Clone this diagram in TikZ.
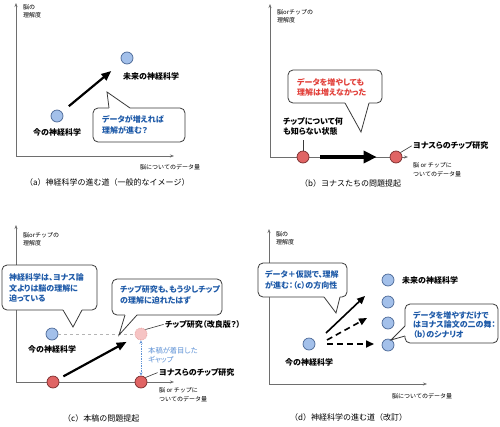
\documentclass[tikz,border=0pt]{standalone}
\usepackage{fontspec}
\setmainfont{Noto Sans CJK JP}
\newfontfamily\jpp{Noto Sans CJK JP}[RawFeature=+palt]
\usetikzlibrary{arrows.meta}
\definecolor{axisgray}{HTML}{6E6E6E}
\definecolor{bluefill}{HTML}{A3C0EA}
\definecolor{bluedark}{HTML}{4A6796}
\definecolor{redfill}{HTML}{E06464}
\definecolor{reddark}{HTML}{7A2C2C}
\definecolor{pinkfill}{HTML}{F6C4C4}
\definecolor{pinkdark}{HTML}{E59A9A}
\definecolor{textblue}{HTML}{1E5AA8}
\definecolor{lightblue}{HTML}{5E92D6}
\definecolor{textred}{HTML}{E2403A}
\definecolor{calldark}{HTML}{3A3A3A}
\definecolor{dashgray}{HTML}{B4B4B4}
\newcommand\mycallout[5]{%
  \draw[callbox] #1 rectangle #2;
  \fill[white] #3 -- #4 -- #5 -- cycle;
  \draw[white, line width=1.6pt] #3 -- #5;
  \draw[callline] #3 -- #4 -- #5;}
\begin{document}
\begin{tikzpicture}[x=1pt,y=-1pt,
  axis/.style={draw=axisgray, line width=0.7pt, -{Stealth[length=4pt,width=3pt]}},
  bcirc/.style={circle, draw=bluedark, fill=bluefill, line width=0.7pt, minimum size=12pt, inner sep=0pt},
  rcirc/.style={circle, draw=reddark, fill=redfill, line width=0.7pt, minimum size=12pt, inner sep=0pt},
  pcirc/.style={circle, draw=pinkdark, fill=pinkfill, densely dotted, line width=0.7pt, minimum size=12pt, inner sep=0pt},
  lbl/.style={inner sep=0pt, anchor=west, align=left, font=\jpp\fontsize{8}{10.5}\selectfont\bfseries},
  calltxt/.style={lbl, text=textblue},
  axlbl/.style={inner sep=0pt, anchor=west, align=left, font=\fontsize{6}{8.5}\selectfont},
  captxt/.style={inner sep=0pt, anchor=west, font=\fontsize{8}{10}\selectfont},
  callbox/.style={draw=calldark, line width=0.8pt, fill=white, rounded corners=5pt},
  callline/.style={draw=calldark, line width=0.8pt, line join=miter},
  pin/.style={draw=calldark, line width=0.6pt},
  fat/.style={line width=2.2pt, -{Triangle[length=10pt,width=8pt]}},
  fatter/.style={line width=3.4pt, -{Triangle[length=13pt,width=12pt]}},
  medarrow/.style={line width=1.6pt, -{Triangle[length=8pt,width=7pt]}},
  dasharrow/.style={medarrow, dash pattern=on 6pt off 4pt}
]
\useasboundingbox[fill=white] (0,0) rectangle (500,426);

% ---------------- (a) ----------------
\coordinate (aO) at (16,156);
\coordinate (aY) at (16,3);
\coordinate (aX) at (174,156);
\draw[axis] (aO) -- (aY);
\draw[axis] (aO) -- (aX);
\node[axlbl] (aYL) at (23,11.5) {脳の\\理解度};
\node[bcirc] (aNow) at (57,116) {};
\node[bcirc] (aFut) at (127,58) {};
\draw[fat, shorten <=9pt, shorten >=14pt] (aNow) -- (aFut);
\node[lbl] (aFutL) at (123,76) {未来の神経科学};
\node[lbl] (aNowL) at (33,132) {今の神経科学};
\mycallout{(93,108)}{(185,142)}{(109,108)}{(107,92)}{(130,108)}
\node[calltxt] (aCT) at (102,125) {データが増えれば\\理解が進む？};
\node[axlbl] (aXL) at (140,167) {脳についてのデータ量};
\node[captxt] (aCap) at (25,182) {（a）神経科学の進む道（一般的なイメージ）};

% ---------------- (b) ----------------
\coordinate (bO) at (270,157);
\coordinate (bY) at (270,4);
\coordinate (bX) at (408,157);
\draw[axis] (bO) -- (bY);
\draw[axis] (bO) -- (bX);
\node[axlbl] (bYL) at (277,16.5) {脳orチップの\\理解度};
\node[rcirc] (bR1) at (303,157) {};
\node[rcirc] (bR2) at (396,157) {};
\draw[fatter, shorten <=11pt, shorten >=13pt] (bR1) -- (bR2);
\node[lbl] (bStart) at (283,126.5) {チップについて何\\も知らない状態};
\coordinate (bPin) at (303,140);
\draw[pin] (bR1.north) -- (bPin);
\node[lbl] (bJonas) at (413,145) {ヨナスらのチップ研究};
\draw[pin, shorten >=1.5pt] (bR2.45) -- (bJonas.west);
\mycallout{(288,70)}{(382,103)}{(345,103)}{(361,132)}{(369,103)}
\node[lbl, text=textred] (bCT) at (297,87.5) {データを増やしても\\理解は増えなかった};
\node[axlbl] (bXL) at (413,169.5) {脳 or チップに\\ついてのデータ量};
\node[captxt] (bCap) at (300,183) {（b）ヨナスたちの問題提起};

% ---------------- (c) ----------------
\coordinate (cO) at (16,382);
\coordinate (cY) at (16,225);
\coordinate (cX) at (174,382);
\draw[axis] (cO) -- (cY);
\draw[axis] (cO) -- (cX);
\node[axlbl] (cYL) at (23,239) {脳orチップの\\理解度};
\node[bcirc] (cNow) at (52,334) {};
\node[rcirc] (cR1) at (53,382) {};
\node[rcirc] (cR2) at (141,382) {};
\node[pcirc] (cP) at (141,334) {};
\draw[draw=dashgray, line width=0.7pt, dashed] (cNow) -- (cP);
\draw[fat, shorten <=5.5pt, shorten >=10pt] (cR1) -- (cP);
\draw[draw=lightblue, line width=0.7pt, densely dotted, {Stealth[length=3.5pt,width=3pt]}-{Stealth[length=3.5pt,width=3pt]}] (cP.south) -- (cR2.north);
\node[lbl] (cNowL) at (28,349) {今の神経科学};
\mycallout{(2,265)}{(97,310)}{(63,310)}{(73,327)}{(82,310)}
\node[calltxt] (cCT1) at (9,288) {神経科学は、ヨナス論\\文よりは脳の理解に\\迫っている};
\mycallout{(112,279)}{(222,315)}{(125,315)}{(119,335)}{(137,315)}
\node[calltxt] (cCT2) at (120,295) {チップ研究も、もう少しチップ\\の理解に迫れたはず};
\node[lbl] (cImp) at (165,324) {チップ研究（改良版？）};
\draw[pin, shorten >=1.5pt] (cP.45) -- (cImp.west);
\node[inner sep=0pt, anchor=west, align=left, text=lightblue, font=\jpp\fontsize{7.3}{8.5}\selectfont] (cGap) at (148,355) {本稿が着目した\\ギャップ};
\node[lbl] (cJonas) at (159,372) {ヨナスらのチップ研究};
\draw[pin, shorten >=1.5pt] (cR2.45) -- (cJonas.west);
\node[axlbl] (cXL) at (159,394.5) {脳 or チップに\\ついてのデータ量};
\node[captxt] (cCap) at (63,418) {（c）本稿の問題提起};

% ---------------- (d) ----------------
\coordinate (dO) at (269,384);
\coordinate (dY) at (269,229);
\coordinate (dX) at (427,384);
\draw[axis] (dO) -- (dY);
\draw[axis] (dO) -- (dX);
\node[axlbl] (dYL) at (276,238.5) {脳の\\理解度};
\node[bcirc] (dNow) at (309,344) {};
\node[bcirc] (dF1) at (388,280) {};
\node[bcirc] (dF2) at (388,302) {};
\node[bcirc] (dF3) at (388,323) {};
\node[bcirc] (dF4) at (388,345) {};
\coordinate (dS1) at (326,333);
\coordinate (dE1) at (365,296);
\coordinate (dS2) at (327,340);
\coordinate (dE2) at (367,318);
\coordinate (dS3) at (327,344);
\coordinate (dE3) at (374,344);
\draw[medarrow] (dS1) -- (dE1);
\draw[dasharrow] (dS2) -- (dE2);
\draw[dasharrow] (dS3) -- (dE3);
\node[lbl] (dFutL) at (402,280) {未来の神経科学};
\node[lbl] (dNowL) at (285,362) {今の神経科学};
\mycallout{(258,263)}{(347,297)}{(324,297)}{(336,313)}{(340,297)}
\node[calltxt] (dCT1) at (265,280) {データ＋仮説で、理解\\が進む：（c）の方向性};
\mycallout{(405,304)}{(498,343)}{(405,326)}{(391,340)}{(405,336)}
\node[calltxt, font=\jpp\fontsize{8}{9.5}\selectfont\bfseries] (dCT2) at (413,324.5) {データを増やすだけで\\はヨナス論文の二の舞：\\（b）のシナリオ};
\node[axlbl] (dXL) at (392,396) {脳についてのデータ量};
\node[captxt] (dCap) at (290,417) {（d）神経科学の進む道（改訂）};
\end{tikzpicture}
\end{document}
